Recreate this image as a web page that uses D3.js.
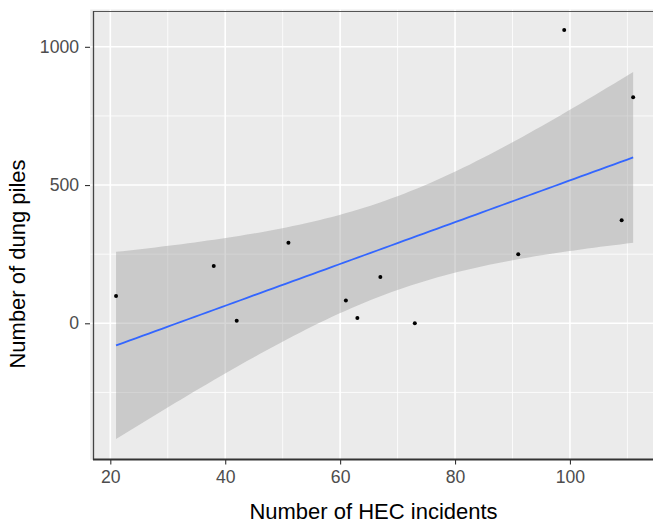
<!DOCTYPE html>
<html>
<head>
<meta charset="utf-8">
<script src="https://cdn.jsdelivr.net/npm/d3@7"></script>
<style>
  body { margin: 0; background: #fff; }
  svg { display: block; font-family: "Liberation Sans", Arial, sans-serif; }
</style>
</head>
<body>
<div id="chart"></div>
<script>
const width = 653, height = 523;

// HEC incidents vs dung piles
const hecIncidents = [21, 38, 42, 51, 61, 63, 67, 73, 91, 99, 109, 111];
const dungPiles = [99, 207, 9, 291, 82, 19, 167, 0, 250, 1061, 373, 818];
const xTicks = [20, 40, 60, 80, 100];
const yTicks = [0, 500, 1000];
const xMinor = [30, 50, 70, 90, 110];
const yMinor = [-250, 250, 750];

const panel = { left: 90.2, right: 659, top: 9.5, bottom: 459.5 };

// linear fit with 95% band, like geom_smooth(method = "lm")
const n = hecIncidents.length;
const mx = d3.mean(hecIncidents), my = d3.mean(dungPiles);
let sxx = 0, sxy = 0;
hecIncidents.forEach((x, i) => {
    sxx += (x - mx) * (x - mx);
    sxy += (x - mx) * (dungPiles[i] - my);
});
const slope = sxy / sxx, intercept = my - slope * mx;
let ssr = 0;
hecIncidents.forEach((x, i) => {
    const r = dungPiles[i] - (intercept + slope * x);
    ssr += r * r;
});
const sigma = Math.sqrt(ssr / (n - 2));
const tCrit = 2.228139; // qt(0.975, 10)

const [xLo, xHi] = d3.extent(hecIncidents);
const band = d3.range(80).map(i => {
    const x = xLo + (xHi - xLo) * i / 79;
    const fit = intercept + slope * x;
    const se = sigma * Math.sqrt(1 / n + (x - mx) * (x - mx) / sxx);
    return { x, fit, lo: fit - tCrit * se, hi: fit + tCrit * se };
});

const yLo = Math.min(d3.min(dungPiles), d3.min(band, d => d.lo));
const yHi = Math.max(d3.max(dungPiles), d3.max(band, d => d.hi));
const xPad = (xHi - xLo) * 0.05, yPad = (yHi - yLo) * 0.05;

const x = d3.scaleLinear()
    .domain([xLo - xPad, xHi + xPad])
    .range([panel.left, panel.right]);
const y = d3.scaleLinear()
    .domain([yLo - yPad, yHi + yPad])
    .range([panel.bottom, panel.top]);

const svg = d3.select("#chart").append("svg")
    .attr("width", width)
    .attr("height", height);

svg.append("rect")
    .attr("x", panel.left).attr("y", panel.top)
    .attr("width", panel.right - panel.left)
    .attr("height", panel.bottom - panel.top)
    .attr("fill", "#ebebeb");

// grid
const grid = svg.append("g");
grid.selectAll(".xminor").data(xMinor).enter().append("line")
    .attr("x1", d => x(d)).attr("x2", d => x(d))
    .attr("y1", panel.top).attr("y2", panel.bottom)
    .attr("stroke", "#fff").attr("stroke-width", 0.8);
grid.selectAll(".yminor").data(yMinor).enter().append("line")
    .attr("x1", panel.left).attr("x2", panel.right)
    .attr("y1", d => y(d)).attr("y2", d => y(d))
    .attr("stroke", "#fff").attr("stroke-width", 0.8);
grid.selectAll(".xmajor").data(xTicks).enter().append("line")
    .attr("x1", d => x(d)).attr("x2", d => x(d))
    .attr("y1", panel.top).attr("y2", panel.bottom)
    .attr("stroke", "#fff").attr("stroke-width", 1.6);
grid.selectAll(".ymajor").data(yTicks).enter().append("line")
    .attr("x1", panel.left).attr("x2", panel.right)
    .attr("y1", d => y(d)).attr("y2", d => y(d))
    .attr("stroke", "#fff").attr("stroke-width", 1.6);

// confidence band and fit
svg.append("path")
    .datum(band)
    .attr("d", d3.area().x(d => x(d.x)).y0(d => y(d.lo)).y1(d => y(d.hi)))
    .attr("fill", "#999999")
    .attr("fill-opacity", 0.4);

svg.append("path")
    .datum(band)
    .attr("d", d3.line().x(d => x(d.x)).y(d => y(d.fit)))
    .attr("fill", "none")
    .attr("stroke", "#3366ff")
    .attr("stroke-width", 1.8);

svg.selectAll(".pt")
    .data(hecIncidents)
    .enter().append("circle")
    .attr("cx", d => x(d))
    .attr("cy", (d, i) => y(dungPiles[i]))
    .attr("r", 2)
    .attr("fill", "#000");

// border lines
svg.append("line")
    .attr("x1", 93.5).attr("x2", width).attr("y1", 11.5).attr("y2", 11.5)
    .attr("stroke", "#555").attr("stroke-width", 1.2);
svg.append("line")
    .attr("x1", 93.5).attr("x2", 93.5).attr("y1", 11).attr("y2", 460)
    .attr("stroke", "#444").attr("stroke-width", 1.3);
svg.append("line")
    .attr("x1", 93).attr("x2", width).attr("y1", 459.5).attr("y2", 459.5)
    .attr("stroke", "#333").attr("stroke-width", 1.8);

// axes
const xAxis = svg.append("g")
    .attr("transform", `translate(0,${panel.bottom})`)
    .call(d3.axisBottom(x).tickValues(xTicks).tickFormat(d3.format("d")).tickSize(5).tickPadding(6));
const yAxis = svg.append("g")
    .attr("transform", `translate(90,0)`)
    .call(d3.axisLeft(y).tickValues(yTicks).tickFormat(d3.format("d")).tickSize(5).tickPadding(6));

[xAxis, yAxis].forEach(a => {
    a.select(".domain").remove();
    a.selectAll(".tick line").attr("stroke", "#333").attr("stroke-width", 1.1);
    a.selectAll(".tick text")
        .attr("fill", "#4d4d4d")
        .style("font-size", "17.6px")
        .style("font-family", "'Liberation Sans', Arial, sans-serif");
});
xAxis.selectAll(".tick text").attr("dy", "0.72em");

svg.append("text")
    .attr("x", (94 + 653) / 2)
    .attr("y", 518.5)
    .attr("text-anchor", "middle")
    .style("font-size", "22px")
    .attr("fill", "#000")
    .text("Number of HEC incidents");

svg.append("text")
    .attr("transform", "translate(25,264) rotate(-90)")
    .attr("text-anchor", "middle")
    .style("font-size", "22px")
    .attr("fill", "#000")
    .text("Number of dung piles");
</script>
</body>
</html>
